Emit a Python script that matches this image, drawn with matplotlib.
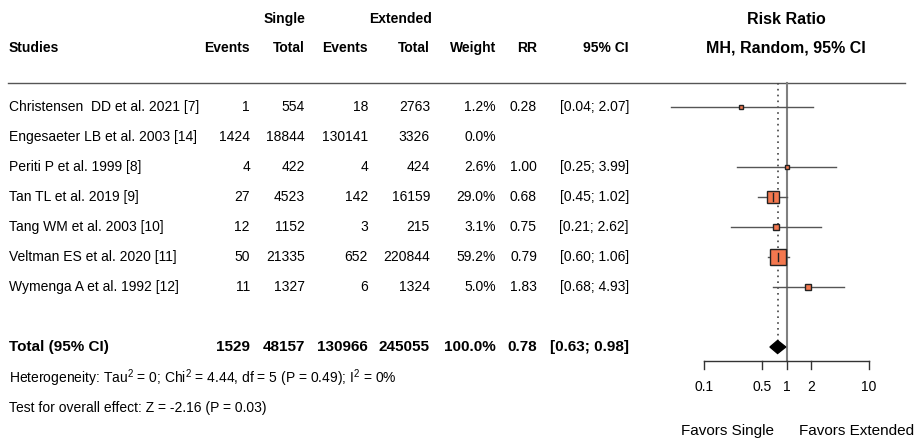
import numpy as np
import matplotlib
matplotlib.use("Agg")
import matplotlib.pyplot as plt
from matplotlib.patches import Polygon

plt.rcParams["font.family"] = ["Liberation Sans", "DejaVu Sans"]
plt.rcParams["mathtext.fontset"] = "custom"
plt.rcParams["mathtext.rm"] = "Liberation Sans"

studies = [
    "Christensen  DD et al. 2021 [7]",
    "Engesaeter LB et al. 2003 [14]",
    "Periti P et al. 1999 [8]",
    "Tan TL et al. 2019 [9]",
    "Tang WM et al. 2003 [10]",
    "Veltman ES et al. 2020 [11]",
    "Wymenga A et al. 1992 [12]",
]
single_events = [1, 1424, 4, 27, 12, 50, 11]
single_total = [554, 18844, 422, 4523, 1152, 21335, 1327]
ext_events = [18, 130141, 4, 142, 3, 652, 6]
ext_total = [2763, 3326, 424, 16159, 215, 220844, 1324]
weights = [1.2, 0.0, 2.6, 29.0, 3.1, 59.2, 5.0]
rr = [0.28, None, 1.00, 0.68, 0.75, 0.79, 1.83]
ci_low = [0.04, None, 0.25, 0.45, 0.21, 0.60, 0.68]
ci_high = [2.07, None, 3.99, 1.02, 2.62, 1.06, 4.93]

total_vals = ["1529", "48157", "130966", "245055", "100.0%", "0.78", "[0.63; 0.98]"]
pooled_rr, pooled_lo, pooled_hi = 0.78, 0.63, 0.98

ticks = [0.1, 0.5, 1, 2, 10]
tick_labels = ["0.1", "0.5", "1", "2", "10"]

W, H = 920, 438
fig = plt.figure(figsize=(W / 100, H / 100), dpi=100)
ax = fig.add_axes([0, 0, 1, 1])
ax.set_xlim(0, W)
ax.set_ylim(H, 0)
ax.axis("off")

row0, dy = 107, 30
fs = 10
col_right = [250, 305, 368, 430, 496, 537, 629]

# headers
ax.text(285, 19, "Single", ha="center", va="center", fontsize=fs, fontweight="bold")
ax.text(401, 19, "Extended", ha="center", va="center", fontsize=fs, fontweight="bold")
ax.text(9, 48, "Studies", ha="left", va="center", fontsize=fs, fontweight="bold")
for x, lab in zip(col_right, ["Events", "Total", "Events", "Total", "Weight", "RR", "95% CI"]):
    ax.text(x, 48, lab, ha="right", va="center", fontsize=fs, fontweight="bold")
ax.text(786, 19, "Risk Ratio", ha="center", va="center", fontsize=11.5, fontweight="bold")
ax.text(786, 48, "MH, Random, 95% CI", ha="center", va="center", fontsize=11.5, fontweight="bold")
ax.plot([8, 905], [82.5, 82.5], color="#555555", lw=1)

# study rows
for i, name in enumerate(studies):
    y = row0 + dy * i
    ax.text(9, y, name, ha="left", va="center", fontsize=fs)
    vals = [str(single_events[i]), str(single_total[i]), str(ext_events[i]),
            str(ext_total[i]), f"{weights[i]:.1f}%"]
    if rr[i] is not None:
        vals += [f"{rr[i]:.2f}", f"[{ci_low[i]:.2f}; {ci_high[i]:.2f}]"]
    for x, v in zip(col_right, vals):
        ax.text(x, y, v, ha="right", va="center", fontsize=fs)

ytot = row0 + dy * 8
ax.text(9, ytot, "Total (95% CI)", ha="left", va="center", fontsize=11, fontweight="bold")
for x, v in zip(col_right, total_vals):
    ax.text(x, ytot, v, ha="right", va="center", fontsize=11, fontweight="bold")
ax.text(9, ytot + 31, r"Heterogeneity: Tau$^{2}$ = 0; Chi$^{2}$ = 4.44, df = 5 (P = 0.49); I$^{2}$ = 0%",
        ha="left", va="center", fontsize=fs)
ax.text(9, ytot + 61, "Test for overall effect: Z = -2.16 (P = 0.03)",
        ha="left", va="center", fontsize=fs)

# forest panel
x_l, x_r = 650, 910
px01, px_dec = 704, 82.5
lo = 10 ** (-1 + (x_l - px01) / px_dec)
hi = 10 ** (-1 + (x_r - px01) / px_dec)
fax = fig.add_axes([x_l / W, 0, (x_r - x_l) / W, 1])
fax.set_xscale("log")
fax.set_xlim(lo, hi)
fax.set_ylim(H, 0)
fax.axis("off")

y_axis = 361
fax.plot([1, 1], [82.5, y_axis], color="#808080", lw=1.5, zorder=1)
fax.plot([pooled_rr, pooled_rr], [82.5, ytot], color="#444444", lw=1.2,
         ls=(0, (1, 2.5)), zorder=1)

for i in range(len(studies)):
    if rr[i] is None:
        continue
    y = row0 + dy * i
    fax.plot([ci_low[i], ci_high[i]], [y, y], color="#555555", lw=1, zorder=2)
    side_px = 2.0 * np.sqrt(weights[i]) + 1.5
    fax.plot([rr[i]], [y], marker="s", ms=side_px * 72 / 100, mfc="#F4784F",
             mec="#222222", mew=1.0, zorder=3)
    if weights[i] > 10:
        fax.plot([rr[i], rr[i]], [y - 4, y + 4], color="#222222", lw=1, zorder=4)

diamond = Polygon([[pooled_lo, ytot], [pooled_rr, ytot - 6.5],
                   [pooled_hi, ytot], [pooled_rr, ytot + 6.5]],
                  closed=True, facecolor="black", edgecolor="black", zorder=5)
fax.add_patch(diamond)

fax.plot([ticks[0], ticks[-1]], [y_axis, y_axis], color="#333333", lw=1)
for t, lab in zip(ticks, tick_labels):
    fax.plot([t, t], [y_axis, y_axis + 8], color="#333333", lw=1)
    fax.text(t, y_axis + 26, lab, ha="center", va="center", fontsize=fs)

ax.text(728, 431, "Favors Single", ha="center", va="center", fontsize=11)
ax.text(857, 431, "Favors Extended", ha="center", va="center", fontsize=11)

fig.savefig("out.png", dpi=100)
